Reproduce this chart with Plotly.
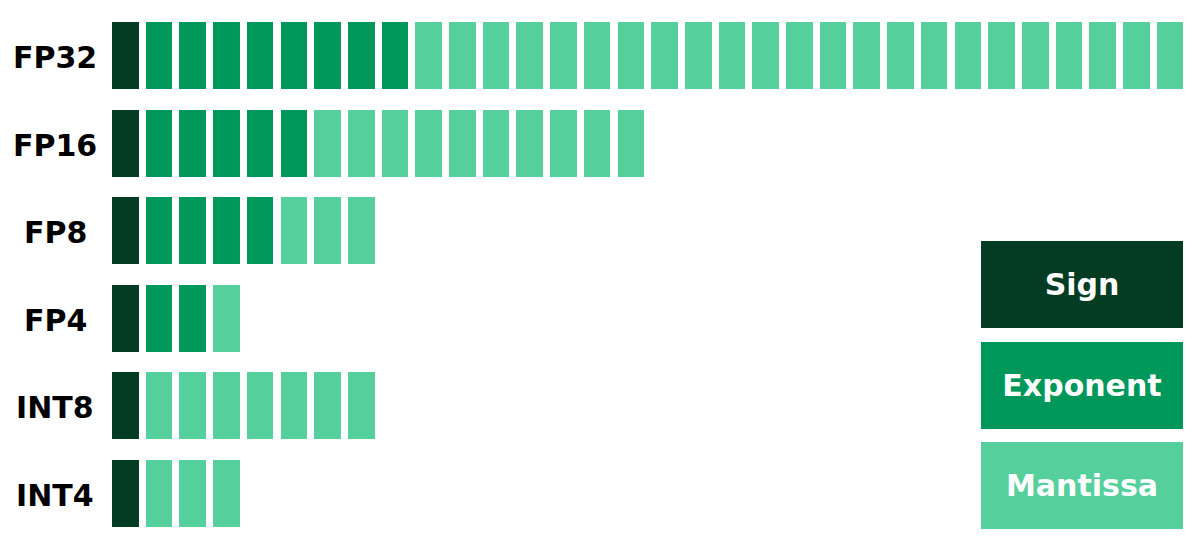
import plotly.graph_objects as go

# Bit layout per number format
formats = ["FP32", "FP16", "FP8", "FP4", "INT8", "INT4"]
sign_bits = [1, 1, 1, 1, 1, 1]
exponent_bits = [8, 5, 4, 2, 0, 0]
mantissa_bits = [23, 10, 3, 1, 7, 3]

parts = ["Sign", "Exponent", "Mantissa"]
colors = {"Sign": "#033b23", "Exponent": "#00985a", "Mantissa": "#55d09c"}

font_family = "DejaVu Sans"

fig = go.Figure()

# one bar per bit, placed with base = bit position
counts = {"Sign": sign_bits, "Exponent": exponent_bits, "Mantissa": mantissa_bits}
for part in parts:
    ys, bases = [], []
    for i, fmt in enumerate(formats):
        start = 0
        for p in parts:
            if p == part:
                break
            start += counts[p][i]
        for b in range(counts[part][i]):
            ys.append(fmt)
            bases.append(start + b)
    fig.add_trace(go.Bar(
        y=ys, x=[0.79] * len(ys), base=bases, orientation="h",
        width=0.765, marker=dict(color=colors[part], line=dict(width=0)),
        name=part, showlegend=False, hoverinfo="skip",
    ))

# row labels, centered left of the bits
for fmt in formats:
    fig.add_annotation(
        x=-1.677, y=fmt, xref="x", yref="y", text="<b>%s</b>" % fmt,
        showarrow=False, xanchor="center", yanchor="middle", yshift=-2,
        font=dict(family=font_family, size=30, color="#000000"),
    )

# legend boxes on the right
legend_y = [0.4982, 0.3149, 0.1334]
for part, ly in zip(parts, legend_y):
    fig.add_annotation(
        x=0.895, y=ly, xref="paper", yref="paper", text="<b>%s</b>" % part,
        showarrow=False, xanchor="center", yanchor="middle",
        width=202, height=87, bgcolor=colors[part], borderpad=0, borderwidth=0,
        font=dict(family=font_family, size=30, color="#ffffff"),
    )

fig.update_layout(
    width=1200, height=551,
    margin=dict(l=0, r=0, t=0, b=0),
    paper_bgcolor="white", plot_bgcolor="white",
    barmode="overlay", bargap=0,
    xaxis=dict(range=[-3.086, 32.522], visible=False, fixedrange=True),
    yaxis=dict(range=[5.748, -0.5422], visible=False, fixedrange=True,
               categoryorder="array", categoryarray=formats),
)

fig.write_html("out.html", config={"displayModeBar": False})
